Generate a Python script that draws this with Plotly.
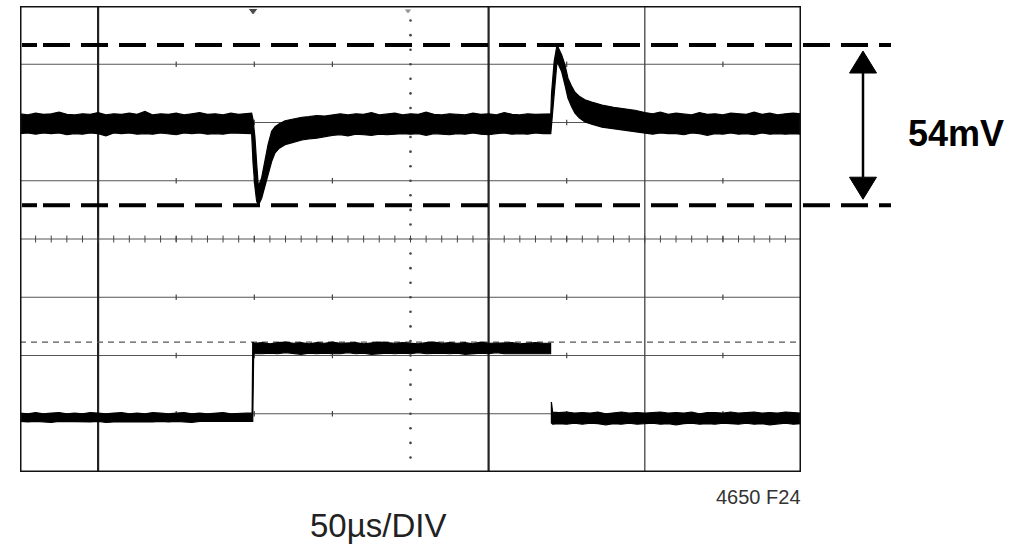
import plotly.graph_objects as go

# ---------------- data (time in µs, 50 µs/div; vertical in screen divisions) ----------------
X_RANGE = [0, 500]
Y_RANGE = [0, 8]

# upper trace (output ripple): upper / lower edge of the noisy band
TOP_T = (list(range(0, 150, 5))
         + [148.3, 149.2, 150.4, 151.5, 152.6, 154.7, 156.8, 158.8, 161.1, 163.3, 166.0,
            169.7, 175.0, 180.5, 185.0, 190.0, 195.0]
         + list(range(200, 340, 5))
         + [339.8, 340.3, 342.0, 343.8, 346.8, 348.9, 350.8, 353.0, 355.3, 358.0, 361.7,
            366.0, 372.6, 380.0, 387.0, 393.7]
         + list(range(400, 505, 5)))
TOP_HI = ([6.15, 6.13, 6.16, 6.14, 6.15, 6.18, 6.14, 6.13, 6.15, 6.14,
           6.17, 6.13, 6.15, 6.14, 6.16, 6.14, 6.19, 6.13, 6.15, 6.14,
           6.16, 6.13, 6.15, 6.17, 6.14, 6.15, 6.13, 6.16, 6.14, 6.15]
          + [6.16, 6.05, 5.75, 5.30, 4.90, 5.05, 5.33, 5.62, 5.85, 5.93, 5.98,
             6.03, 6.06, 6.09, 6.10, 6.12, 6.11]
          + [6.13, 6.15, 6.13, 6.15, 6.14, 6.17, 6.13, 6.14, 6.16, 6.13,
             6.15, 6.14, 6.18, 6.14, 6.13, 6.15, 6.14, 6.13, 6.16, 6.14,
             6.15, 6.13, 6.17, 6.14, 6.13, 6.15, 6.14, 6.15]
          + [6.15, 6.50, 7.05, 7.33, 7.16, 6.99, 6.76, 6.63, 6.52, 6.45, 6.39,
             6.35, 6.30, 6.26, 6.23, 6.21]
          + [6.17, 6.15, 6.18, 6.14, 6.16, 6.15, 6.13, 6.17, 6.14, 6.15,
             6.13, 6.16, 6.15, 6.14, 6.18, 6.14, 6.16, 6.13, 6.15, 6.16, 6.15])
TOP_LO = ([5.81, 5.82, 5.80, 5.82, 5.81, 5.82, 5.79, 5.81, 5.80, 5.82,
           5.81, 5.77, 5.82, 5.81, 5.82, 5.80, 5.81, 5.80, 5.82, 5.81,
           5.79, 5.82, 5.81, 5.82, 5.80, 5.81, 5.80, 5.82, 5.81, 5.81]
          + [5.81, 5.30, 4.90, 4.65, 4.58, 4.70, 4.93, 5.10, 5.33, 5.48, 5.56,
             5.62, 5.66, 5.70, 5.72, 5.73, 5.75]
          + [5.78, 5.79, 5.77, 5.80, 5.79, 5.78, 5.80, 5.79, 5.80, 5.81,
             5.80, 5.81, 5.78, 5.81, 5.80, 5.79, 5.81, 5.80, 5.82, 5.80,
             5.79, 5.81, 5.82, 5.80, 5.81, 5.80, 5.82, 5.81]
          + [5.81, 5.95, 6.50, 7.05, 6.87, 6.64, 6.42, 6.28, 6.16, 6.08, 6.01,
             5.97, 5.92, 5.89, 5.86, 5.84]
          + [5.82, 5.80, 5.82, 5.81, 5.81, 5.79, 5.82, 5.81, 5.78, 5.81,
             5.80, 5.82, 5.80, 5.81, 5.79, 5.82, 5.80, 5.81, 5.80, 5.81, 5.80])

# lower trace (load step); None = break at the (unrecorded) falling edge
BOT_T = (list(range(0, 150, 5)) + [148.6, 149.0, 149.6]
         + list(range(150, 340, 5)) + [339.7, None, 340.2, 341.0]
         + list(range(345, 505, 5)))
BOT_HI = ([1.01, 1.00, 1.02, 1.00, 1.01, 1.02, 1.00, 1.01, 1.00, 1.02,
           1.01, 1.00, 1.01, 1.02, 1.00, 1.01, 1.00, 1.02, 1.01, 1.00,
           1.01, 1.02, 1.00, 1.01, 1.00, 1.01, 1.02, 1.00, 1.01, 1.01]
          + [1.01, 2.22, 2.22]
          + [2.21, 2.22, 2.20, 2.22, 2.23, 2.21, 2.22, 2.20, 2.22, 2.21,
             2.23, 2.21, 2.22, 2.22, 2.20, 2.21, 2.23, 2.22, 2.21, 2.22,
             2.21, 2.20, 2.22, 2.23, 2.21, 2.22, 2.21, 2.22, 2.20, 2.23,
             2.21, 2.21, 2.22, 2.22, 2.20, 2.21, 2.22, 2.21]
          + [2.21, None, 1.20, 1.03]
          + [1.02, 1.03, 1.01, 1.02, 1.01, 1.03, 1.00, 1.02, 1.03, 1.01,
             1.02, 1.01, 1.02, 1.03, 1.01, 1.02, 1.01, 1.03, 1.00, 1.02,
             1.02, 1.01, 1.03, 1.01, 1.02, 1.03, 1.01, 1.02, 1.01, 1.03,
             1.02, 1.01])
BOT_LO = ([0.87, 0.86, 0.87, 0.86, 0.85, 0.87, 0.86, 0.87, 0.86, 0.86,
           0.87, 0.85, 0.86, 0.87, 0.86, 0.87, 0.86, 0.86, 0.87, 0.86,
           0.87, 0.86, 0.85, 0.87, 0.86, 0.87, 0.86, 0.87, 0.86, 0.87]
          + [0.87, 0.87, 2.03]
          + [2.04, 2.03, 2.04, 2.03, 2.05, 2.03, 2.02, 2.04, 2.03, 2.04,
             2.03, 2.03, 2.05, 2.03, 2.04, 2.02, 2.03, 2.04, 2.03, 2.04,
             2.03, 2.05, 2.03, 2.03, 2.04, 2.03, 2.04, 2.02, 2.03, 2.04,
             2.03, 2.05, 2.03, 2.03, 2.04, 2.03, 2.04, 2.03]
          + [2.03, None, 0.84, 0.82]
          + [0.83, 0.82, 0.84, 0.82, 0.84, 0.83, 0.81, 0.83, 0.82, 0.84,
             0.82, 0.83, 0.84, 0.82, 0.83, 0.81, 0.83, 0.84, 0.82, 0.83,
             0.82, 0.84, 0.83, 0.82, 0.84, 0.82, 0.83, 0.81, 0.83, 0.84,
             0.82, 0.83])

MEAS_HIGH = 7.33      # upper cursor (div)
MEAS_LOW = 4.58       # lower cursor (div)
MEAS_LABEL = "54mV"
REF_LEVEL = 2.23      # dotted reference line for lower trace
GRID_Y = [1, 2, 3, 4, 5, 6, 7]
GRID_X_THICK = [50, 300]
GRID_X_THIN = [400]
GRID_X_DOTTED = 250
GRID_MARK_X = [100, 150, 200, 350, 450]
TRIGGER_MARKS = [149.2, 248.4]
TIME_LABEL = "50µs/DIV"
FIG_LABEL = "4650 F24"

assert len(TOP_T) == len(TOP_HI) == len(TOP_LO)
assert len(BOT_T) == len(BOT_HI) == len(BOT_LO)

# ---------------- layout geometry ----------------
W, H = 1031, 545
PL, PR, PT, PB = 20, 801, 6, 472


def px_x(px):
    return (px - PL) / (PR - PL)


def px_y(py):
    return (PB - py) / (PB - PT)


def lvl(d):
    return (d - Y_RANGE[0]) / (Y_RANGE[1] - Y_RANGE[0])


def band(t, hi, lo):
    segs, cur = [], []
    for a, b, c in zip(t, hi, lo):
        if a is None:
            segs.append(cur)
            cur = []
        else:
            cur.append((a, b, c))
    segs.append(cur)
    xs, ys = [], []
    for s in segs:
        tt = [p[0] for p in s]
        h = [p[1] for p in s]
        l = [p[2] for p in s]
        xs += tt + tt[::-1] + [tt[0], None]
        ys += h + l[::-1] + [h[0], None]
    return xs, ys


fig = go.Figure()

# center dotted vertical line (minor marks)
qy = [k / 4 for k in range(1, 32)]
fig.add_trace(go.Scatter(x=[GRID_X_DOTTED] * len(qy), y=qy, mode="markers",
                         marker=dict(symbol="circle", size=2.6, color="#444"),
                         hoverinfo="skip"))
# minor ticks along the horizontal center line
mx = list(range(10, 500, 10))
fig.add_trace(go.Scatter(x=mx, y=[4] * len(mx), mode="markers",
                         marker=dict(symbol="line-ns", size=5,
                                     line=dict(width=1, color="#444")),
                         hoverinfo="skip"))
# small marks at intersections where vertical lines are missing
ix, iy = [], []
for gy in GRID_Y:
    for gx in GRID_MARK_X:
        ix.append(gx)
        iy.append(gy)
fig.add_trace(go.Scatter(x=ix, y=iy, mode="markers",
                         marker=dict(symbol="line-ns", size=4,
                                     line=dict(width=1.2, color="#444")),
                         hoverinfo="skip"))

for t, hi, lo in [(TOP_T, TOP_HI, TOP_LO), (BOT_T, BOT_HI, BOT_LO)]:
    xs, ys = band(t, hi, lo)
    fig.add_trace(go.Scatter(x=xs, y=ys, mode="lines", fill="toself",
                             fillcolor="black", line=dict(color="black", width=1.2),
                             hoverinfo="skip"))

# trigger markers at the top
fig.add_trace(go.Scatter(x=TRIGGER_MARKS, y=[7.92, 7.92], mode="markers",
                         marker=dict(symbol="triangle-down", size=[9, 7],
                                     color=["black", "#666"]),
                         cliponaxis=False, hoverinfo="skip"))

shapes = []
for gy in GRID_Y:
    shapes.append(dict(type="line", xref="x", yref="y", x0=X_RANGE[0], x1=X_RANGE[1],
                       y0=gy, y1=gy, line=dict(color="#555", width=1.1), layer="below"))
for gx in GRID_X_THICK:
    shapes.append(dict(type="line", xref="x", yref="y", x0=gx, x1=gx,
                       y0=Y_RANGE[0], y1=Y_RANGE[1], line=dict(color="#222", width=2.2),
                       layer="below"))
for gx in GRID_X_THIN:
    shapes.append(dict(type="line", xref="x", yref="y", x0=gx, x1=gx,
                       y0=Y_RANGE[0], y1=Y_RANGE[1], line=dict(color="#444", width=1.3),
                       layer="below"))
# dotted reference line for lower trace
shapes.append(dict(type="line", xref="x", yref="y", x0=X_RANGE[0], x1=X_RANGE[1],
                   y0=REF_LEVEL, y1=REF_LEVEL,
                   line=dict(color="#555", width=1.3, dash="6px,5px"), layer="below"))
# frame
shapes.append(dict(type="rect", xref="x", yref="y", x0=X_RANGE[0], x1=X_RANGE[1],
                   y0=Y_RANGE[0], y1=Y_RANGE[1], line=dict(color="#111", width=3)))

# measurement cursors (dashed, extending beyond the screen)
for lv in [MEAS_HIGH, MEAS_LOW]:
    yp = lvl(lv)
    shapes.append(dict(type="line", xref="paper", yref="paper", x0=px_x(22), x1=px_x(37),
                       y0=yp, y1=yp, line=dict(color="black", width=4)))
    shapes.append(dict(type="line", xref="paper", yref="paper", x0=px_x(43), x1=px_x(891),
                       y0=yp, y1=yp, line=dict(color="black", width=4, dash="27px,11px")))

# double-headed arrow
ax = px_x(863)
hw = 13.5 / (PR - PL)
head = 22 / (PB - PT)
gap = 6 / (PB - PT)
top_tip = lvl(MEAS_HIGH) - gap
bot_tip = lvl(MEAS_LOW) + gap
shapes.append(dict(type="line", xref="paper", yref="paper", x0=ax, x1=ax,
                   y0=top_tip - head, y1=bot_tip + head, line=dict(color="black", width=2.5)))
shapes.append(dict(type="path", xref="paper", yref="paper",
                   path=f"M {ax - hw},{top_tip - head} L {ax + hw},{top_tip - head} L {ax},{top_tip} Z",
                   fillcolor="black", line=dict(color="black", width=1)))
shapes.append(dict(type="path", xref="paper", yref="paper",
                   path=f"M {ax - hw},{bot_tip + head} L {ax + hw},{bot_tip + head} L {ax},{bot_tip} Z",
                   fillcolor="black", line=dict(color="black", width=1)))

annotations = [
    dict(text=f"<b>{MEAS_LABEL}</b>", xref="paper", yref="paper", x=px_x(956), y=px_y(133),
         xanchor="center", yanchor="middle", showarrow=False,
         font=dict(family="Liberation Sans, Arial, sans-serif", size=36, color="black")),
    dict(text=TIME_LABEL, xref="paper", yref="paper", x=px_x(378), y=px_y(525),
         xanchor="center", yanchor="middle", showarrow=False,
         font=dict(family="Liberation Sans, Arial, sans-serif", size=33, color="#222")),
    dict(text=FIG_LABEL, xref="paper", yref="paper", x=px_x(803), y=px_y(496.5),
         xanchor="right", yanchor="middle", showarrow=False,
         font=dict(family="Liberation Sans, Arial, sans-serif", size=20, color="#333")),
]

fig.update_layout(
    width=W, height=H,
    margin=dict(l=PL, r=W - PR, t=PT, b=H - PB, pad=0),
    paper_bgcolor="white", plot_bgcolor="white",
    showlegend=False,
    xaxis=dict(range=X_RANGE, showgrid=False, zeroline=False, showticklabels=False,
               ticks="", showline=False, fixedrange=True),
    yaxis=dict(range=Y_RANGE, showgrid=False, zeroline=False, showticklabels=False,
               ticks="", showline=False, fixedrange=True),
    shapes=shapes,
    annotations=annotations,
)

fig.write_html("out.html", config={"displayModeBar": False},
               post_script="document.body.style.margin='0px';document.body.style.overflow='hidden';")
